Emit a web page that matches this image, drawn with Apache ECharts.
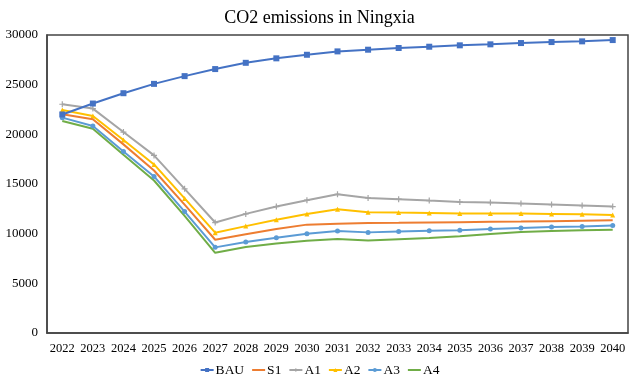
<!DOCTYPE html>
<html><head><meta charset="utf-8">
<script src="https://cdn.jsdelivr.net/npm/echarts@6/dist/echarts.min.js"></script>
<style>html,body{margin:0;padding:0;background:#fff}#c{width:639px;height:381px}</style>
</head><body><div id="c"></div>
<script>
const years = ['2022','2023','2024','2025','2026','2027','2028','2029','2030','2031','2032','2033','2034','2035','2036','2037','2038','2039','2040'];
const BAU = [22000,23100,24140,25080,25860,26570,27200,27650,28010,28350,28520,28690,28820,28960,29060,29190,29290,29360,29490];
const S1  = [22020,21520,18990,16360,12930,9390,9950,10470,10910,11010,11080,11100,11130,11160,11190,11220,11260,11300,11340];
const A1  = [23030,22590,20230,17880,14510,11120,11990,12730,13370,13970,13600,13470,13330,13200,13130,13030,12930,12830,12730];
const A2  = [22460,21850,19430,16970,13550,10100,10760,11410,11990,12460,12160,12120,12090,12020,12020,12020,11990,11950,11890];
const A3  = [21680,20840,18270,15760,12220,8620,9160,9600,10000,10270,10130,10230,10300,10340,10470,10570,10670,10710,10810];
const A4  = [21340,20570,17950,15350,11800,8070,8660,9000,9290,9460,9320,9450,9560,9730,9960,10160,10270,10340,10400];
const seriesNames = ['BAU','S1','A1','A2','A3','A4'];
const colors = ['#4472C4','#ED7D31','#A5A5A5','#FFC000','#5B9BD5','#70AD47'];
const font = '"Liberation Serif","Times New Roman",serif';
const plus = 'path://M4,0H6V4H10V6H6V10H4V6H0V4H4Z';
const symbols = ['rect','none',plus,'triangle','circle','none'];
const sizes = [6,0,6,5,5,0];
const data = [BAU,S1,A1,A2,A3,A4];
const chart = echarts.init(document.getElementById('c'));
chart.setOption({
  animation:false,
  color: colors,
  title:{text:'CO2 emissions in Ningxia',left:'center',top:4,textStyle:{fontFamily:font,fontSize:18,fontWeight:'normal',color:'#000'}},
  grid:{left:47,right:11,top:35,bottom:48,show:true,borderColor:'#444',borderWidth:1.5},
  legend:{top:358,left:'center',itemGap:7,itemWidth:13,itemHeight:5,textStyle:{fontFamily:font,fontSize:13.5,color:'#000',padding:[0,0,0,-3]},data:seriesNames},
  xAxis:{type:'category',data:years,boundaryGap:true,axisLine:{lineStyle:{color:'#444',width:1.5}},axisTick:{show:false},axisLabel:{fontFamily:font,fontSize:12.5,color:'#000',margin:9,interval:0}},
  yAxis:{type:'value',min:0,max:30000,interval:5000,axisLine:{show:true,lineStyle:{color:'#444',width:1.5}},axisTick:{show:false},splitLine:{show:false},axisLabel:{fontFamily:font,fontSize:13,color:'#000',margin:9,formatter:v=>String(v)}},
  series: seriesNames.map((n,i)=>{
    const none = symbols[i]==='none';
    return {name:n,type:'line',data:data[i],
      symbol: none ? 'circle' : symbols[i], symbolSize: none ? 4 : sizes[i], showSymbol: !none,
      lineStyle:{width:2,color:colors[i]},
      itemStyle:{color:colors[i], opacity: none ? 0 : 1},
      emphasis:{disabled:true},
      z:10-i};
  })
});
</script></body></html>
